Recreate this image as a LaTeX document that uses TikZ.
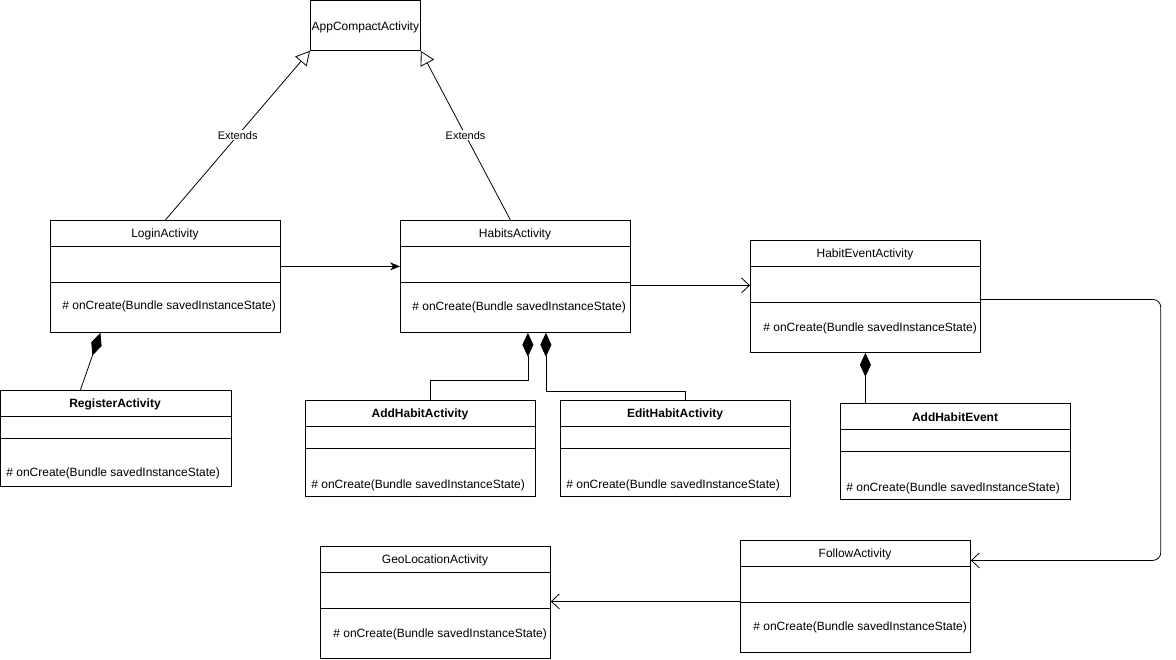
\documentclass[tikz,border=0pt]{standalone}
\usepackage{fontspec}
\setmainfont{Liberation Sans}
\usetikzlibrary{arrows.meta}
\begin{document}
\begin{tikzpicture}[x=1pt,y=-1pt,line width=0.8pt,
  box/.style={draw,anchor=north west,inner sep=0pt,minimum width=230pt,minimum height=#1},
  ttl/.style={inner sep=1pt,yshift=-1.5pt,font=\fontsize{12}{14}\selectfont},
  bttl/.style={inner sep=1pt,yshift=-1.5pt,font=\fontsize{12}{14}\selectfont\bfseries},
  meth/.style={inner sep=0pt,anchor=west,yshift=-1.5pt,font=\fontsize{12}{14}\selectfont},
  lbl/.style={fill=white,inner sep=1pt,font=\fontsize{11}{13}\selectfont},
  ext/.style={-{Triangle[open,length=14pt,width=15pt]}},
  assoc/.style={-{Straight Barb[length=8pt,width=15pt]}},
  nav/.style={-{Stealth[length=10pt,width=8pt]}},
  comp/.style={{Diamond[length=24pt,width=11pt]}-}]
\useasboundingbox (0,0) rectangle (1176,659);

% AppCompactActivity
\node[draw,anchor=north west,inner sep=0pt,minimum width=110pt,minimum height=50pt] (app) at (310,0) {};
\node[ttl] (app-t) at (app.center) {AppCompactActivity};

% LoginActivity
\node[box=112pt] (login) at (50,220) {};
\draw ([yshift=-26pt]login.north west) -- ([yshift=-26pt]login.north east);
\draw ([yshift=-62pt]login.north west) -- ([yshift=-62pt]login.north east);
\node[ttl] (login-t) at (165,233) {LoginActivity};
\node[meth] (login-m) at (62,305) {\# onCreate(Bundle savedInstanceState)};

% HabitsActivity
\node[box=112pt] (habits) at (400,220) {};
\draw ([yshift=-26pt]habits.north west) -- ([yshift=-26pt]habits.north east);
\draw ([yshift=-62pt]habits.north west) -- ([yshift=-62pt]habits.north east);
\node[ttl] (habits-t) at (515,233) {HabitsActivity};
\node[meth] (habits-m) at (412,306) {\# onCreate(Bundle savedInstanceState)};

% HabitEventActivity
\node[box=112pt] (hevent) at (750,240) {};
\draw ([yshift=-26pt]hevent.north west) -- ([yshift=-26pt]hevent.north east);
\draw ([yshift=-62pt]hevent.north west) -- ([yshift=-62pt]hevent.north east);
\node[ttl] (hevent-t) at (865,253) {HabitEventActivity};
\node[meth] (hevent-m) at (763,327) {\# onCreate(Bundle savedInstanceState)};

% RegisterActivity
\node[box=96pt,minimum width=231pt] (register) at (0,390) {};
\draw ([yshift=-26pt]register.north west) -- ([yshift=-26pt]register.north east);
\draw ([yshift=-48pt]register.north west) -- ([yshift=-48pt]register.north east);
\node[bttl] (register-t) at (115,403) {RegisterActivity};
\node[meth] (register-m) at (6,472) {\# onCreate(Bundle savedInstanceState)};

% AddHabitActivity
\node[box=96pt] (addhabit) at (305,400) {};
\draw ([yshift=-26pt]addhabit.north west) -- ([yshift=-26pt]addhabit.north east);
\draw ([yshift=-48pt]addhabit.north west) -- ([yshift=-48pt]addhabit.north east);
\node[bttl] (addhabit-t) at (420,413) {AddHabitActivity};
\node[meth] (addhabit-m) at (311,484) {\# onCreate(Bundle savedInstanceState)};

% EditHabitActivity
\node[box=96pt] (edithabit) at (560,400) {};
\draw ([yshift=-26pt]edithabit.north west) -- ([yshift=-26pt]edithabit.north east);
\draw ([yshift=-48pt]edithabit.north west) -- ([yshift=-48pt]edithabit.north east);
\node[bttl] (edithabit-t) at (675,413) {EditHabitActivity};
\node[meth] (edithabit-m) at (566,484) {\# onCreate(Bundle savedInstanceState)};

% AddHabitEvent
\node[box=96pt] (ahe) at (840,403) {};
\draw ([yshift=-26pt]ahe.north west) -- ([yshift=-26pt]ahe.north east);
\draw ([yshift=-48pt]ahe.north west) -- ([yshift=-48pt]ahe.north east);
\node[bttl] (ahe-t) at (955,416) {AddHabitEvent};
\node[meth] (ahe-m) at (846,487) {\# onCreate(Bundle savedInstanceState)};

% GeoLocationActivity
\node[box=112pt] (geo) at (320,546) {};
\draw ([yshift=-26pt]geo.north west) -- ([yshift=-26pt]geo.north east);
\draw ([yshift=-62pt]geo.north west) -- ([yshift=-62pt]geo.north east);
\node[ttl] (geo-t) at (435,559) {GeoLocationActivity};
\node[meth] (geo-m) at (333,633) {\# onCreate(Bundle savedInstanceState)};

% FollowActivity
\node[box=112pt] (follow) at (740,540) {};
\draw ([yshift=-26pt]follow.north west) -- ([yshift=-26pt]follow.north east);
\draw ([yshift=-62pt]follow.north west) -- ([yshift=-62pt]follow.north east);
\node[ttl] (follow-t) at (855,553) {FollowActivity};
\node[meth] (follow-m) at (753,626) {\# onCreate(Bundle savedInstanceState)};

% Generalisations
\draw[ext] (login.north) -- node[lbl] {Extends} (app.south west);
\draw[ext] ([xshift=-5pt]habits.north) -- node[lbl] {Extends} (app.south east);

% Associations
\draw[nav] ([yshift=10pt]login.east) -- ([yshift=10pt]login.east -| habits.west);
\draw[assoc] ([yshift=-9pt]habits.east) -- ([yshift=-9pt]habits.east -| hevent.west);
\draw[assoc,rounded corners=8pt] ([yshift=-3pt]hevent.east) -- ++(180,0) -- ++(0,261) -- ([yshift=36pt]follow.east);
\draw[assoc] ([yshift=-5pt]follow.west) -- ([yshift=-5pt]follow.west -| geo.east);

% Compositions
\draw[comp] ([xshift=-65pt]login.south) -- ([xshift=-35.5pt]register.north);
\draw[comp] ([xshift=12.5pt]habits.south) -- ++(0,48) -| ([xshift=10pt]addhabit.north);
\draw[comp] ([xshift=30.5pt]habits.south) -- ++(0,59) -| ([xshift=10pt]edithabit.north);
\draw[comp] (hevent.south) -- ([xshift=-90pt]ahe.north);
\end{tikzpicture}
\end{document}
